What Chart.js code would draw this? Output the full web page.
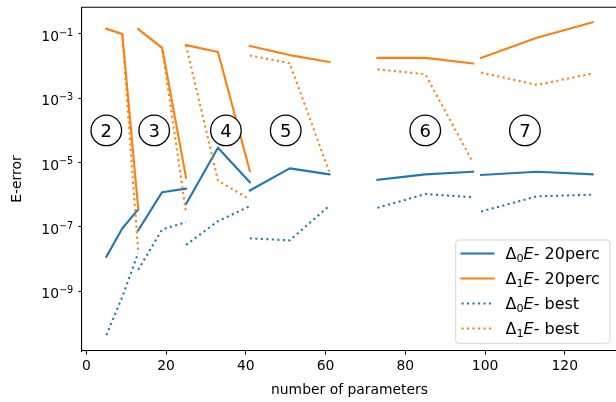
<!DOCTYPE html>
<html><head><meta charset="utf-8">
<script src="https://cdn.jsdelivr.net/npm/chart.js@4"></script>
<style>html,body{margin:0;padding:0;overflow:hidden;background:#fff}</style>
</head><body>
<canvas id="c" width="617" height="402" style="width:617px;height:402px;display:block"></canvas>
<script>
// number of parameters, 6 segments of 3 points each
const nParams   = [5, 9, 13,   13, 19, 25,   25, 33, 41,   41, 51, 61,   73, 85, 97,   99, 113, 127];
const segLen = 3;
const d0_20perc = [1.17e-8, 8.9e-8, 3.5e-7,   7.8e-8, 1.2e-6, 1.55e-6,   5.1e-7, 2.9e-5, 2.45e-6,   1.35e-6, 6.6e-6, 4.3e-6,   2.9e-6, 4.3e-6, 5.2e-6,   4.1e-6, 5.2e-6, 4.3e-6];
const d1_20perc = [1.45e-1, 1.0e-1, 3.7e-7,   1.43e-1, 3.7e-2, 3.4e-6,   4.5e-2, 2.75e-2, 5.5e-6,   4.2e-2, 2.2e-2, 1.35e-2,   1.8e-2, 1.8e-2, 1.2e-2,   1.8e-2, 7.6e-2, 2.3e-1];
const d0_best   = [4.3e-11, 6.6e-10, 1.55e-8,  4.6e-9, 8.3e-8, 1.4e-7,   2.75e-8, 1.5e-7, 4.4e-7,   4.4e-8, 3.8e-8, 4.6e-7,   3.9e-7, 1.05e-6, 8.3e-7,   3.0e-7, 8.9e-7, 1.0e-6];
const d1_best   = [1.45e-1, 1.0e-1, 1.66e-8,  1.43e-1, 3.7e-2, 2.8e-7,   4.5e-2, 2.75e-6, 7.1e-7,   2.14e-2, 1.23e-2, 4.8e-6,   7.9e-3, 5.6e-3, 1.0e-5,   6.3e-3, 2.6e-3, 5.9e-3];
const segmentLabels = ['2', '3', '4', '5', '6', '7'];
const segmentLabelX = [5, 17, 35, 50, 85, 110];
const segmentLabelY = 1e-4;
const xTicks = [0, 20, 40, 60, 80, 100, 120];
const yTicks = [1e-9, 1e-7, 1e-5, 1e-3, 1e-1];
const legendSubs = ['0', '1', '0', '1'];
const legendSuffix = ['- 20perc', '- 20perc', '- best', '- best'];

const BLUE = '#1f77b4', ORANGE = '#ff7f0e';
const FONT = '"DejaVu Sans", sans-serif';
const DOT = [2.1, 3.4];

function toPoints(ys) {
  const pts = [];
  for (let i = 0; i < nParams.length; i++) {
    if (i > 0 && i % segLen === 0) pts.push({x: nParams[i], y: null});
    pts.push({x: nParams[i], y: ys[i]});
  }
  return pts;
}
function ds(ys, color, dash) {
  return {data: toPoints(ys), borderColor: color, backgroundColor: color, borderWidth: 2.1,
    borderDash: dash, borderCapStyle: dash.length ? 'butt' : 'square', borderJoinStyle: 'round',
    pointRadius: 0, tension: 0, fill: false, spanGaps: false};
}

const overlay = {
  id: 'overlay',
  afterDatasetsDraw(chart) {
    const ctx = chart.ctx, xs = chart.scales.x, ys = chart.scales.y, a = chart.chartArea;
    ctx.save();
    // top spine
    ctx.strokeStyle = '#000'; ctx.lineWidth = 1.1;
    ctx.beginPath(); ctx.moveTo(a.left, a.top); ctx.lineTo(a.right, a.top); ctx.stroke();
    // y tick labels with superscript
    ctx.fillStyle = '#000'; ctx.textBaseline = 'alphabetic'; ctx.textAlign = 'left';
    yTicks.forEach(v => {
      const py = ys.getPixelForValue(v);
      const e = Math.round(Math.log10(v));
      const sup = (e < 0 ? '\u2212' : '') + Math.abs(e);
      ctx.font = '13.9px ' + FONT; const wb = ctx.measureText('10').width;
      ctx.font = '9.73px ' + FONT; const wsu = ctx.measureText(sup).width;
      const x0 = 73.3 - wb - wsu;
      ctx.font = '13.9px ' + FONT; ctx.fillText('10', x0, py + 7.2);
      ctx.font = '9.73px ' + FONT; ctx.fillText(sup, x0 + wb, py + 1.7);
    });
    // circled segment labels
    segmentLabels.forEach((t, i) => {
      const cx = xs.getPixelForValue(segmentLabelX[i]);
      const cy = ys.getPixelForValue(segmentLabelY);
      ctx.beginPath(); ctx.arc(cx, cy, 15.3, 0, Math.PI * 2);
      ctx.fillStyle = '#fff'; ctx.fill();
      ctx.strokeStyle = '#000'; ctx.lineWidth = 1.3; ctx.stroke();
      ctx.fillStyle = '#000'; ctx.font = '18px ' + FONT;
      ctx.textAlign = 'center'; ctx.textBaseline = 'alphabetic';
      ctx.fillText(t, cx, cy + 6.6);
    });
    // legend
    const lx = 455.7, ly = 240, lw = 154.3, lh = 103.3, r = 3;
    ctx.beginPath();
    ctx.moveTo(lx + r, ly); ctx.lineTo(lx + lw - r, ly); ctx.arcTo(lx + lw, ly, lx + lw, ly + r, r);
    ctx.lineTo(lx + lw, ly + lh - r); ctx.arcTo(lx + lw, ly + lh, lx + lw - r, ly + lh, r);
    ctx.lineTo(lx + r, ly + lh); ctx.arcTo(lx, ly + lh, lx, ly + lh - r, r);
    ctx.lineTo(lx, ly + r); ctx.arcTo(lx, ly, lx + r, ly, r); ctx.closePath();
    ctx.fillStyle = 'rgba(255,255,255,0.8)'; ctx.fill();
    ctx.strokeStyle = 'rgba(204,204,204,0.8)'; ctx.lineWidth = 1; ctx.stroke();
    const dsets = [chart.data.datasets[3], chart.data.datasets[2], chart.data.datasets[1], chart.data.datasets[0]];
    for (let i = 0; i < 4; i++) {
      const yc = 253.5 + 25 * i;
      const d = dsets[i];
      ctx.strokeStyle = d.borderColor; ctx.lineWidth = 2.1;
      ctx.setLineDash(d.borderDash); ctx.lineCap = d.borderDash.length ? 'butt' : 'square';
      ctx.beginPath(); ctx.moveTo(461.5, yc); ctx.lineTo(493.5, yc); ctx.stroke();
      ctx.setLineDash([]);
      ctx.fillStyle = '#000'; ctx.textAlign = 'left'; ctx.textBaseline = 'alphabetic';
      let x = 505.5; const base = yc + 5.2;
      ctx.font = '16px ' + FONT; ctx.fillText('\u0394', x, base); x += ctx.measureText('\u0394').width;
      ctx.font = '11.2px ' + FONT; ctx.fillText(legendSubs[i], x, base + 3); x += ctx.measureText(legendSubs[i]).width;
      ctx.font = 'italic 16px ' + FONT; ctx.fillText('E', x, base); x += ctx.measureText('E').width;
      ctx.font = '16px ' + FONT; ctx.fillText(legendSuffix[i], x, base);
    }
    ctx.restore();
  }
};

Chart.defaults.font.family = FONT;
Chart.defaults.color = '#000';

new Chart(document.getElementById('c'), {
  type: 'line',
  data: {datasets: [
    ds(d1_best, ORANGE, DOT),
    ds(d0_best, BLUE, DOT),
    ds(d1_20perc, ORANGE, []),
    ds(d0_20perc, BLUE, [])
  ]},
  options: {
    responsive: false, animation: false, devicePixelRatio: 1,
    layout: {padding: {top: 4, left: 0, right: 0, bottom: 0}},
    plugins: {legend: {display: false}, tooltip: {enabled: false}},
    scales: {
      x: {
        type: 'linear', min: -1.1, max: 133.1,
        afterBuildTicks: s => { s.ticks = xTicks.map(v => ({value: v})); },
        afterFit: s => { s.height = 51; },
        grid: {display: true, drawOnChartArea: false, drawTicks: true, tickLength: 3.5, tickWidth: 1.1, color: '#000'},
        border: {display: true, color: '#000', width: 1.1},
        ticks: {font: {size: 13.9}, color: '#000', padding: 4, maxRotation: 0, autoSkip: false},
        title: {display: true, text: 'number of parameters', font: {size: 13.9}, color: '#000', padding: {top: 0, bottom: 3.7}}
      },
      y: {
        type: 'logarithmic', min: Math.pow(10, -10.861), max: Math.pow(10, -0.168),
        afterBuildTicks: s => { s.ticks = yTicks.map(v => ({value: v})); },
        afterFit: s => { s.width = 82; },
        grid: {display: true, drawOnChartArea: false, drawTicks: true, tickLength: 3.5, tickWidth: 1.1, color: '#000'},
        border: {display: true, color: '#000', width: 1.1},
        ticks: {callback: () => '', padding: 0},
        title: {display: true, text: 'E-error', font: {size: 13.9}, color: '#000', padding: {top: 8.7, bottom: 0}}
      }
    }
  },
  plugins: [overlay]
});
</script>
</body></html>
